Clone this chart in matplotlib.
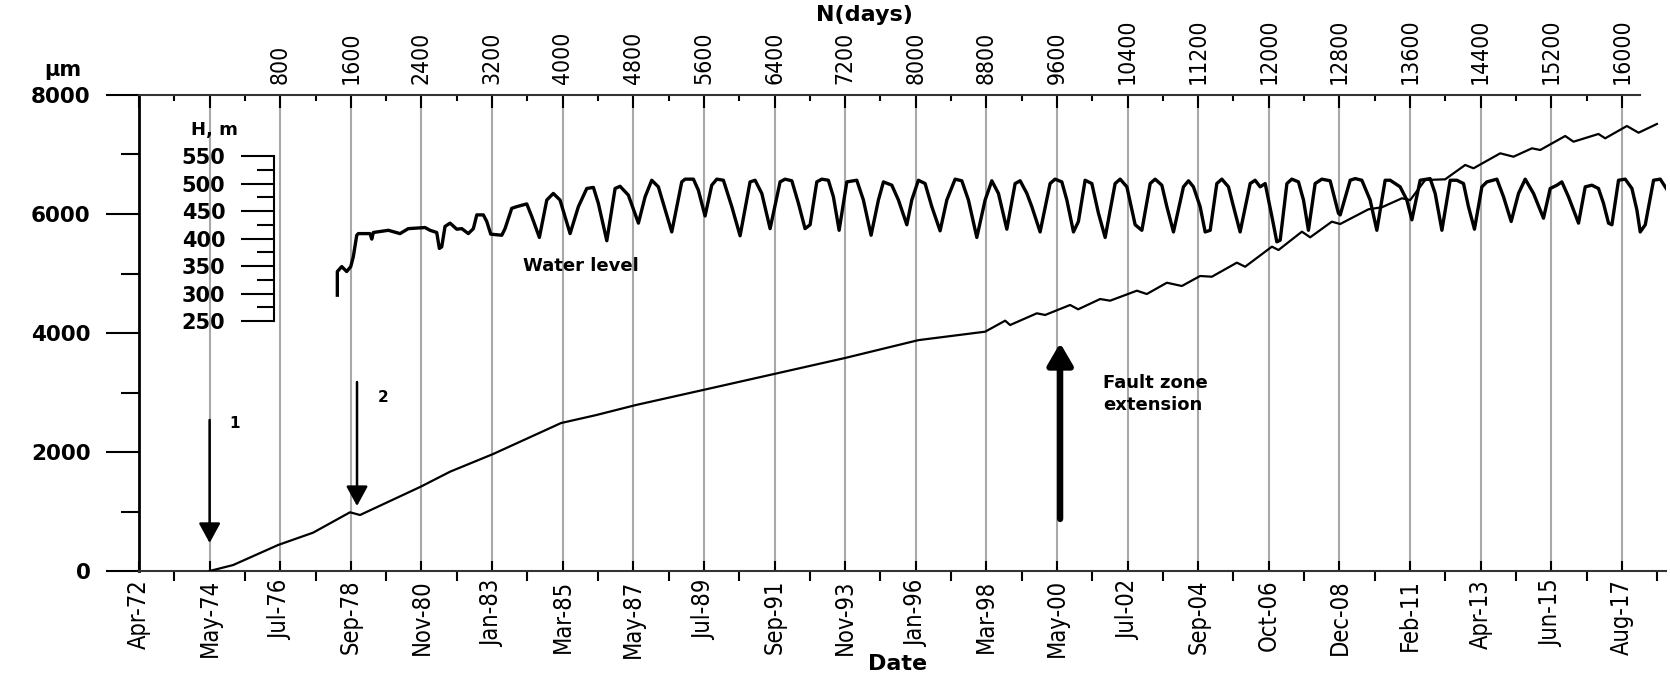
import matplotlib.pyplot as plt
from matplotlib import font_manager as fm
from matplotlib.ticker import FixedLocator, MultipleLocator

# deformation of the fault zone (µm) vs N (days counted from May-74)
def_days = [0, 266, 776, 1172, 1591, 1704, 2392, 2724, 3212, 3982, 4378, 4831,
            5590, 6395, 7199, 8030, 8786, 9013, 9069, 9372, 9466, 9749, 9840,
            10089, 10202, 10505, 10618, 10845, 11015, 11222, 11355, 11638, 11732,
            12035, 12110, 12375, 12469, 12714, 12809, 13129, 13281, 13508, 13602,
            13772, 13998, 14225, 14319, 14622, 14772, 14981, 15075, 15358, 15452,
            15735, 15811, 16057, 16189, 16397]
def_um = [0, 100, 437, 644, 987, 941, 1417, 1669, 1966, 2487, 2620, 2790,
          3042, 3311, 3580, 3880, 4022, 4207, 4134, 4331, 4303, 4471, 4398,
          4571, 4543, 4711, 4655, 4845, 4790, 4958, 4946, 5182, 5114,
          5451, 5395, 5703, 5608, 5871, 5832, 6079, 6113, 6264, 6235,
          6571, 6583, 6824, 6768, 7020, 6963, 7104, 7076, 7311, 7215,
          7345, 7272, 7479, 7366, 7513]

# reservoir water level H (m)
wl_days = [1447, 1447, 1497, 1553, 1599, 1628, 1667, 1685, 1817, 1837, 1855, 2025,
           2157, 2251, 2441, 2497, 2573, 2603, 2630, 2667, 2724, 2800, 2857, 2931,
           2988, 3027, 3101, 3140, 3185, 3310, 3347, 3423, 3480, 3593, 3650, 3736,
           3820, 3894, 3970, 4084, 4178, 4273, 4348, 4404, 4500, 4594, 4650, 4744,
           4858, 4934, 5009, 5084, 5236, 5349, 5387, 5481, 5537, 5613, 5689, 5746,
           5821, 5916, 6010, 6123, 6180, 6256, 6350, 6463, 6520, 6596, 6671, 6746,
           6803, 6879, 6936, 7010, 7067, 7132, 7219, 7332, 7407, 7494, 7577, 7634,
           7729, 7804, 7899, 7955, 8030, 8106, 8182, 8276, 8352, 8446, 8522, 8597,
           8692, 8786, 8862, 8937, 9032, 9126, 9183, 9259, 9315, 9409, 9522, 9579,
           9655, 9712, 9787, 9843, 9919, 9995, 10070, 10146, 10259, 10316, 10392,
           10486, 10562, 10656, 10712, 10788, 10845, 10920, 11033, 11090, 11146,
           11222, 11279, 11336, 11411, 11468, 11543, 11600, 11675, 11789, 11845,
           11902, 11959, 12035, 12091, 12129, 12205, 12261, 12336, 12393, 12449,
           12525, 12601, 12695, 12789, 12809, 12922, 12979, 13054, 13148, 13224,
           13318, 13375, 13488, 13564, 13621, 13715, 13828, 13885, 13961, 14055,
           14131, 14206, 14262, 14330, 14414, 14471, 14584, 14659, 14746, 14829,
           14905, 14999, 15112, 15188, 15264, 15320, 15395, 15509, 15585, 15660,
           15735, 15792, 15849, 15887, 15962, 16038, 16114, 16170, 16208, 16265,
           16359, 16435, 16491, 16529]
wl_h = [297, 340, 349, 340, 349, 367, 406, 409, 409, 399, 411, 415,
        409, 418, 420, 415, 411, 382, 385, 422, 428, 417, 418, 409,
        418, 443, 443, 431, 408, 406, 418, 455, 458, 463, 440, 402,
        470, 482, 470, 409, 458, 491, 493, 464, 396, 491, 495, 479,
        428, 476, 506, 494, 412, 503, 508, 508, 488, 441, 497, 508,
        506, 458, 405, 503, 506, 482, 418, 503, 508, 505, 464, 418,
        425, 503, 508, 506, 476, 415, 503, 506, 470, 406, 470, 503,
        497, 470, 425, 470, 506, 500, 458, 414, 470, 508, 505, 470,
        402, 470, 505, 482, 417, 500, 505, 482, 458, 412, 500, 508,
        503, 470, 412, 431, 506, 500, 446, 402, 500, 508, 494,
        425, 415, 500, 508, 497, 458, 412, 494, 505, 494,
        458, 412, 415, 500, 508, 494, 458, 412, 500, 506,
        494, 500, 440, 394, 397, 500, 508, 503, 470, 415,
        500, 508, 505, 446, 443, 506, 509, 506, 470, 415,
        506, 506, 494, 470, 434, 506, 509, 482, 415, 506,
        506, 500, 458, 417, 494, 503, 508, 476, 431, 482,
        508, 482, 437, 491, 497, 503, 476, 428, 494, 497,
        491, 464, 428, 425, 506, 508, 491, 452, 412, 425,
        506, 508, 494, 485]

date_labels = ['Apr-72', 'May-74', 'Jul-76', 'Sep-78', 'Nov-80', 'Jan-83', 'Mar-85',
               'May-87', 'Jul-89', 'Sep-91', 'Nov-93', 'Jan-96', 'Mar-98', 'May-00',
               'Jul-02', 'Sep-04', 'Oct-06', 'Dec-08', 'Feb-11', 'Apr-13', 'Jun-15',
               'Aug-17']
date_ticks = [-800 + 800 * i for i in range(len(date_labels))]
day_ticks = list(range(-800, 16001, 800))
h_ticks = [250, 300, 350, 400, 450, 500, 550]


# look for a narrow/condensed face for the rotated tick labels
def narrow_font(size, fallback_size):
    files = [f for f in fm.fontManager.ttflist
             if ('Narrow' in f.name or 'Condensed' in f.fname or 'Condensed' in f.name)
             and f.style == 'normal']
    regular = [f for f in files if f.weight in (400, 'normal', 'regular')]
    pick = (regular or files)
    if pick:
        return fm.FontProperties(fname=pick[0].fname, size=size)
    return fm.FontProperties(family='DejaVu Sans', size=fallback_size)


plt.rcParams['font.family'] = 'DejaVu Sans'

W, H = 1670, 677
fig = plt.figure(figsize=(W / 100, H / 100), dpi=100)
ax = fig.add_axes([139 / W, 1 - 571 / H, (1666 - 139) / W, 476 / H])
ax.set_xlim(-800, 16500)
ax.set_ylim(0, 8000)

# vertical grid
for d in day_ticks[1:]:
    ax.axvline(d, color='#a8a8a8', lw=1.5, zorder=0)

ax.plot(def_days, def_um, color='black', lw=1.6, zorder=3)

# bottom date axis
date_fp = narrow_font(17, 13.3)
ax.set_xticks(date_ticks)
ax.set_xticklabels(date_labels, rotation=90, fontproperties=date_fp)
ax.xaxis.set_minor_locator(FixedLocator([t + 400 for t in date_ticks[:-1]] + [16400]))
ax.tick_params(axis='x', which='major', direction='in', length=7, width=1.5, pad=6)
ax.tick_params(axis='x', which='minor', direction='out', length=7, width=1.5)

# left axis
ax.yaxis.set_major_locator(MultipleLocator(2000))
ax.yaxis.set_minor_locator(MultipleLocator(1000))
ax.tick_params(axis='y', which='major', direction='out', length=24, width=1.5, pad=11,
               labelsize=15.5)
ax.tick_params(axis='y', which='minor', direction='out', length=13, width=1.5)
for lab in ax.get_yticklabels():
    lab.set_fontweight('bold')
ax.spines['left'].set_linewidth(2)
ax.spines['bottom'].set_linewidth(1.5)
ax.spines['bottom'].set_color('#333333')
ax.spines['right'].set_visible(False)
ax.spines['top'].set_visible(False)

# top N(days) axis
top_fp = narrow_font(16.5, 14)
axt = ax.twiny()
axt.set_xlim(ax.get_xlim())
axt.xaxis.set_major_locator(FixedLocator(day_ticks))
axt.set_xticklabels(['' if d <= 0 else str(d) for d in day_ticks], rotation=90,
                    fontproperties=top_fp)
axt.xaxis.set_minor_locator(FixedLocator([d + 400 for d in day_ticks[:-1]]))
axt.tick_params(axis='x', which='major', direction='in', length=9, width=1.5, pad=8)
axt.tick_params(axis='x', which='minor', direction='in', length=4, width=1.5)
for s in ['left', 'right', 'bottom']:
    axt.spines[s].set_visible(False)
axt.spines['top'].set_bounds(-800, 16200)
axt.spines['top'].set_linewidth(1.5)
axt.spines['top'].set_color('#333333')

# water level on its own small scale
axw = ax.twinx()
axw.set_ylim(-204.5, 661)
axw.plot(wl_days, wl_h, color='black', lw=2.4, zorder=4)
for s in ['right', 'top', 'bottom']:
    axw.spines[s].set_visible(False)
axw.spines['left'].set_position(('data', 730))
axw.spines['left'].set_bounds(250, 550)
axw.spines['left'].set_linewidth(1.5)
axw.yaxis.set_ticks_position('left')
axw.set_yticks(h_ticks)
axw.yaxis.set_minor_locator(FixedLocator([h + 25 for h in h_ticks[:-1]]))
axw.tick_params(axis='y', which='major', direction='out', length=24, width=1.5, pad=11,
                labelsize=15)
axw.tick_params(axis='y', which='minor', direction='out', length=12, width=1.5)
for lab in axw.get_yticklabels():
    lab.set_fontweight('bold')

# texts
bold = dict(fontweight='bold', color='black')
ax.text(50, 7410, 'H, m', ha='center', va='center', fontsize=13, **bold)
ax.text(3551, 5126, 'Water level', ha='left', va='center', fontsize=13, **bold)
ax.text(10123, 2975, 'Fault zone\nextension', ha='left', va='center', fontsize=13,
        linespacing=1.3, **bold)
ax.text(288, 2487, '1', ha='center', va='center', fontsize=11, **bold)
ax.text(1965, 2924, '2', ha='center', va='center', fontsize=11, **bold)
fig.text(63 / W, 1 - 70 / H, 'µm', ha='center', va='center', fontsize=15, **bold)
fig.text(864 / W, 1 - 15 / H, 'N(days)', ha='center', va='center', fontsize=16, **bold)
fig.text(898 / W, 1 - 664 / H, 'Date', ha='center', va='center', fontsize=16, **bold)

# arrows
thin = dict(arrowstyle='-|>,head_length=0.55,head_width=0.3', color='black', lw=1.8,
            mutation_scale=22, shrinkA=0, shrinkB=0)
ax.annotate('', xy=(0, 471), xytext=(0, 2538), arrowprops=thin, zorder=5)
ax.annotate('', xy=(1670, 1092), xytext=(1670, 3176), arrowprops=thin, zorder=5)
ax.annotate('', xy=(9636, 3832), xytext=(9636, 874),
            arrowprops=dict(arrowstyle='-|>,head_length=0.6,head_width=0.35',
                            color='black', lw=4.5, mutation_scale=22,
                            shrinkA=0, shrinkB=0), zorder=5)

fig.savefig('out.png', dpi=100)
